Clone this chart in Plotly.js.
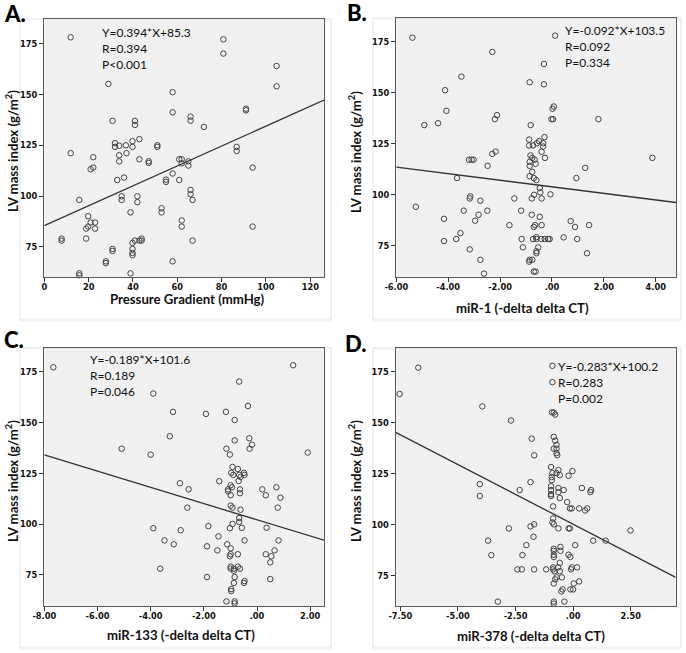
<!DOCTYPE html>
<html>
<head>
<meta charset="utf-8">
<script src="https://cdn.plot.ly/plotly-3.0.1.min.js"></script>
<style>html,body{margin:0;padding:0;background:#fff;}#chart{width:686px;height:653px;}</style>
</head>
<body>
<div id="chart"></div>
<script>
// ---------- Panel A: Pressure Gradient ----------
const aX = [11.9,80.8,80.8,104.8,104.8,28.9,57.9,57.9,30.8,40.9,40.9,66.0,66.0,72.0,91.0,91.0,31.9,31.9,33.8,36.8,39.8,39.8,42.9,51.0,51.0,11.9,33.8,37.1,22.1,22.1,20.9,33.8,42.9,47.1,47.1,60.9,62.0,62.0,65.0,65.0,86.8,86.8,94.0,32.9,36.0,54.9,54.9,57.9,60.9,15.8,34.9,34.9,42.0,42.0,38.9,52.9,52.9,66.0,66.0,66.9,19.8,19.8,20.9,22.9,18.9,22.9,62.0,62.0,94.0,7.8,7.8,18.9,42.9,40.9,43.9,43.9,39.8,66.9,30.8,30.8,39.8,39.8,39.8,27.8,27.8,57.9,15.8,15.8,38.9];
const aY = [178.1,177.1,170.1,164.0,154.0,155.2,151.1,141.2,137.0,137.0,135.0,139.1,137.1,134.0,143.0,142.2,126.0,124.2,124.8,125.0,127.0,124.2,128.0,125.0,124.2,121.1,120.1,121.1,119.1,114.0,113.2,117.1,118.1,117.1,116.3,118.1,118.1,116.1,117.1,115.0,124.2,122.2,114.0,107.9,109.1,108.1,107.0,111.1,107.9,98.1,99.9,98.1,99.9,97.0,92.0,94.0,92.0,103.0,100.9,98.1,90.1,85.0,87.0,87.0,84.0,84.0,88.0,85.0,85.0,79.1,78.1,79.1,78.1,78.1,79.1,78.1,77.0,78.1,74.0,73.0,74.0,72.0,70.9,67.9,67.0,67.9,62.0,61.0,62.0];
const aFitX = [0, 126.2];
const aFitY = [85.5, 147.2];
const aTickVals = [0,20,40,60,80,100,120];
const aTickText = ["0","20","40","60","80","100","120"];
const aStats = ["Y=0.394*X+85.3","R=0.394","P<0.001"];

// ---------- Panel B: miR-1 ----------
const bX = [-5.38,0.12,-2.30,-0.31,-3.49,-0.86,-0.31,-4.12,-4.07,-4.92,-4.39,-2.12,-2.20,0.07,0.02,0.04,-0.02,1.79,-0.82,-0.88,-0.88,-0.73,-0.58,-0.50,-0.34,-0.29,-0.34,-0.40,-0.27,-0.83,-0.76,-0.67,-0.86,-0.63,-0.86,-0.76,-0.86,-0.70,-0.60,-2.17,-2.30,-3.20,-3.10,-3.02,-2.48,-3.66,0.94,1.28,3.87,-5.25,-3.15,-3.17,-2.76,-1.45,-0.78,-0.69,-0.47,-0.45,-0.40,-0.06,-3.40,-2.49,-2.83,-1.19,-0.78,-0.47,-4.16,-2.96,-1.64,-0.65,-0.70,-0.40,-3.53,-3.69,-4.16,-1.17,-0.73,-0.60,-0.60,-0.41,-0.28,-0.15,-0.09,-1.12,-0.53,-0.60,-0.60,-3.17,-2.76,-0.86,-0.88,-0.76,-2.62,-0.70,-0.63,0.45,0.72,0.89,0.97,1.43,1.35];
const bY = [177.1,178.1,170.1,164.2,158.0,155.2,154.2,151.3,141.2,134.2,135.1,139.1,137.1,143.3,142.2,137.1,137.1,137.1,134.2,127.1,124.2,124.2,125.3,126.3,125.3,128.3,123.7,121.1,118.1,119.3,118.1,117.2,116.2,115.2,114.2,111.3,109.1,108.2,107.2,121.2,120.1,117.2,117.2,117.2,114.2,108.2,108.2,113.2,118.1,94.1,99.2,98.2,97.1,98.2,98.2,100.0,103.3,101.2,98.2,100.2,92.2,92.2,90.2,92.2,90.2,89.2,88.2,87.3,85.1,85.1,84.2,85.1,81.2,78.3,77.3,78.3,78.3,79.2,78.3,78.3,78.3,78.3,78.3,74.2,74.2,72.3,71.3,73.2,68.1,68.1,67.2,68.1,61.3,62.3,62.3,79.1,87.1,84.2,78.3,85.1,71.3];
const bFitX = [-6.0, 4.78];
const bFitY = [113.6, 96.2];
const bTickVals = [-6,-4,-2,0,2,4];
const bTickText = ["-6.00","-4.00","-2.00",".00","2.00","4.00"];
const bStats = ["Y=-0.092*X+103.5","R=0.092","P=0.334"];

// ---------- Panel C: miR-133 ----------
const cX = [-7.66,1.36,-0.67,-3.90,-3.16,-1.92,-1.17,-0.34,-0.84,-3.28,-0.29,-0.84,-5.09,-4.00,-1.15,-1.02,-0.19,-0.28,1.91,-0.92,-0.72,-0.97,-0.89,-0.67,-0.49,-0.47,-0.62,-0.69,-1.42,-2.90,-0.99,-2.57,-0.94,-1.09,-1.09,-0.64,-0.64,-0.99,0.20,0.73,0.33,0.88,-0.99,-0.92,-2.62,-0.62,0.78,-0.67,-0.67,-0.92,-1.02,-0.57,-3.90,-2.87,-1.83,0.36,-3.48,-3.13,-1.45,-1.12,-0.99,-0.47,0.81,-1.88,-1.49,0.66,-0.99,-1.02,-0.72,0.33,0.54,0.50,-3.64,-0.99,-0.87,-0.72,-0.64,-0.87,-0.99,-1.88,-0.84,0.50,-0.47,-0.49,-0.87,-0.97,-0.97,-1.15,-0.84,-0.84];
const cY = [177.1,178.1,170.1,164.2,155.2,154.2,155.2,158.1,151.2,143.2,142.2,141.2,137.1,134.2,137.1,134.2,139.1,137.1,135.2,128.1,127.1,125.2,124.2,124.2,125.2,124.2,123.2,121.2,121.1,120.1,119.1,117.1,118.1,117.1,116.1,117.1,115.2,114.2,117.1,118.1,114.2,113.0,109.1,108.1,108.1,107.1,108.1,103.0,101.1,100.1,98.0,98.2,98.0,97.0,99.0,98.2,92.0,90.1,94.0,90.1,88.1,92.0,92.0,89.1,87.1,87.1,85.2,84.2,85.2,85.2,84.2,81.2,78.1,78.1,78.1,79.1,78.1,77.1,79.1,74.0,74.0,73.0,72.0,71.1,71.1,68.1,67.1,62.0,62.0,61.0];
const cFitX = [-8.0, 2.52];
const cFitY = [134.0, 92.1];
const cTickVals = [-8,-6,-4,-2,0,2];
const cTickText = ["-8.00","-6.00","-4.00","-2.00",".00","2.00"];
const cStats = ["Y=-0.189*X+101.6","R=0.189","P=0.046"];

// ---------- Panel D: miR-378 ----------
const dX = [-6.72,-7.53,-0.90,-0.90,-3.94,-2.70,-0.92,-0.84,-0.78,-1.80,-0.84,-0.78,-0.72,-0.84,-0.72,-0.72,-0.69,-1.69,-0.96,-0.90,-0.64,-0.58,-0.72,-0.03,-0.20,-0.93,-0.93,-1.85,-4.05,-4.05,-2.32,-0.96,-0.96,-0.96,-0.96,-0.64,-0.64,-0.41,-0.58,0.38,0.78,0.75,-0.26,-0.87,-0.14,-0.06,0.26,0.52,0.61,-0.87,-0.90,-0.84,-1.69,-1.85,-2.79,-0.64,-0.14,-0.20,2.49,-3.69,0.87,1.41,-1.72,-2.03,0.09,-0.84,-0.84,-0.55,-0.55,-0.84,-0.84,-0.20,-0.12,-3.55,-2.20,-0.58,-2.42,-2.23,-1.69,-1.17,-0.87,-0.87,-0.81,-0.65,-0.58,-0.06,-0.09,0.17,-0.72,-0.49,-0.78,0.26,-0.84,0.03,-0.46,-0.51,-0.12,0.00,-3.27,-0.84,-0.84,-0.38];
const dY = [177.0,164.1,177.9,169.9,158.0,151.1,155.1,155.0,154.0,142.2,143.1,141.2,139.2,137.3,137.3,135.1,134.1,134.0,128.3,125.3,126.8,124.3,125.3,126.3,124.0,123.4,121.9,120.9,119.9,114.1,117.0,118.9,117.0,115.0,114.1,118.0,116.0,117.0,113.1,118.0,117.0,116.0,111.1,109.0,108.0,108.0,108.0,107.0,108.0,103.1,101.1,100.2,100.2,99.2,98.2,98.2,98.2,98.2,97.2,92.2,92.2,92.2,94.1,90.0,90.0,88.2,87.2,89.1,87.2,85.3,84.2,85.3,84.2,85.1,85.1,81.3,78.1,78.1,78.1,78.1,79.1,78.1,77.2,79.1,77.2,79.1,78.1,79.1,74.2,74.2,73.2,72.2,71.2,71.2,68.3,67.3,68.3,68.3,62.3,62.3,61.3,62.3];
const dFitX = [-7.7, 4.45];
const dFitY = [145.3, 74.2];
const dTickVals = [-7.5,-5,-2.5,0,2.5];
const dTickText = ["-7.50","-5.00","-2.50",".00","2.50"];
const dStats = ["Y=-0.283*X+100.2","R=0.283","P=0.002"];

const yTickVals = [75,100,125,150,175];
const yTickText = ["75","100","125","150","175"];
const yTitle = "LV mass index (g/m<sup>2</sup>)";
const xTitles = ["Pressure Gradient (mmHg)","miR-1 (-delta delta CT)","miR-133 (-delta delta CT)","miR-378 (-delta delta CT)"];
const panelLabels = ["A.","B.","C.","D."];

// ---------- layout helpers (pixel geometry) ----------
const W = 686, H = 653;
const px = v => v / W;
const py = v => 1 - v / H;

const panels = [
  {x: aX, y: aY, fx: aFitX, fy: aFitY, tv: aTickVals, tt: aTickText, stats: aStats,
   dom: [44.3, 324, 19, 277], xr: [0, 126.2], yr: [60.2, 187.1],
   xt: [187.5, 299], yt: [12, 151],
   lab: [2, 13.5], st: [100, 32], frame: [20, 331, 19, 320]},
  {x: bX, y: bY, fx: bFitX, fy: bFitY, tv: bTickVals, tt: bTickText, stats: bStats,
   dom: [396.3, 676, 18.3, 276.7], xr: [-6, 4.78], yr: [59.8, 186.6],
   xt: [522, 308], yt: [355, 152],
   lab: [345, 13], st: [563, 30], frame: [373, 681, 18.3, 320]},
  {x: cX, y: cY, fx: cFitX, fy: cFitY, tv: cTickVals, tt: cTickText, stats: cStats,
   dom: [44.3, 324, 348, 605.7], xr: [-8, 2.52], yr: [59.9, 186.6],
   xt: [181, 635], yt: [12, 481],
   lab: [2, 339], st: [88, 359], frame: [20, 331, 348, 648]},
  {x: dX, y: dY, fx: dFitX, fy: dFitY, tv: dTickVals, tt: dTickText, stats: dStats,
   dom: [395.7, 675.7, 348.3, 605.7], xr: [-7.7, 4.45], yr: [60.3, 186.5],
   xt: [531, 636], yt: [355, 481],
   lab: [343, 343], st: [556, 366], frame: [373, 681, 348.3, 648]}
];

const tickFont = {family: "'Liberation Sans Narrow', 'Arial Narrow', 'DejaVu Sans Condensed', sans-serif", size: 9.2, color: "#111", weight: 700};
const titleFont = {family: "Lato, 'Open Sans', sans-serif", size: 13.2, color: "#111", weight: 700};
const statFont = {family: "Lato, 'Open Sans', sans-serif", size: 12, color: "#111"};

const traces = [];
const layout = {
  width: W, height: H,
  margin: {l: 0, r: 0, t: 0, b: 0},
  paper_bgcolor: "#ffffff",
  showlegend: false,
  annotations: [],
  shapes: []
};

panels.forEach((p, i) => {
  const n = i === 0 ? "" : String(i + 1);
  const xa = "x" + n, ya = "y" + n;
  traces.push({
    type: "scatter", mode: "markers", x: p.x, y: p.y, xaxis: xa, yaxis: ya,
    marker: {symbol: "circle-open", size: 5.5, color: "#444", line: {width: 1, color: "#444"}},
    hoverinfo: "skip", cliponaxis: false
  });
  traces.push({
    type: "scatter", mode: "lines", x: p.fx, y: p.fy, xaxis: xa, yaxis: ya,
    line: {color: "#333", width: 1.3}, hoverinfo: "skip"
  });
  const common = {
    showgrid: false, zeroline: false, showline: true, mirror: true,
    linecolor: "#5a5a5a", linewidth: 1.2,
    ticks: "outside", ticklen: 4, tickwidth: 1, tickcolor: "#333",
    tickfont: tickFont, automargin: false, fixedrange: true
  };
  layout["xaxis" + n] = Object.assign({}, common, {
    domain: [px(p.dom[0]), px(p.dom[1])], range: p.xr, anchor: ya,
    tickvals: p.tv, ticktext: p.tt, ticklabelstandoff: -3
  });
  layout["yaxis" + n] = Object.assign({}, common, {
    domain: [py(p.dom[3]), py(p.dom[2])], range: p.yr, anchor: xa,
    tickvals: yTickVals, ticktext: yTickText
  });
  layout.shapes.push({
    type: "rect", xref: xa + " domain", yref: ya + " domain",
    x0: 0, x1: 1, y0: 0, y1: 1, fillcolor: "#f0f0f0", line: {width: 0}, layer: "below"
  });
  layout.shapes.push({
    type: "rect", xref: "paper", yref: "paper",
    x0: px(p.frame[0]), x1: px(p.frame[1]), y0: py(p.frame[3]), y1: py(p.frame[2]),
    line: {color: "#e2e2e2", width: 1}, fillcolor: "rgba(0,0,0,0)", layer: "below"
  });
  // axis titles
  layout.annotations.push({
    xref: "paper", yref: "paper", x: px(p.xt[0]), y: py(p.xt[1]),
    xanchor: "center", yanchor: "middle", showarrow: false,
    text: xTitles[i], font: titleFont
  });
  layout.annotations.push({
    xref: "paper", yref: "paper", x: px(p.yt[0]), y: py(p.yt[1]),
    xanchor: "center", yanchor: "middle", showarrow: false, textangle: -90,
    text: yTitle, font: titleFont
  });
  // panel label
  layout.annotations.push({
    xref: "paper", yref: "paper", x: px(p.lab[0]), y: py(p.lab[1]),
    xanchor: "left", yanchor: "middle", showarrow: false,
    text: panelLabels[i],
    font: {family: "Lato, 'Open Sans', sans-serif", size: 22, color: "#000", weight: 900}
  });
  p.stats.forEach((s, k) => {
    layout.annotations.push({
      xref: "paper", yref: "paper", x: px(p.st[0]), y: py(p.st[1] + 16 * k),
      xanchor: "left", yanchor: "middle", showarrow: false, text: s,
      font: statFont
    });
  });
});

Plotly.newPlot("chart", traces, layout, {staticPlot: true, displayModeBar: false});
</script>
</body>
</html>
